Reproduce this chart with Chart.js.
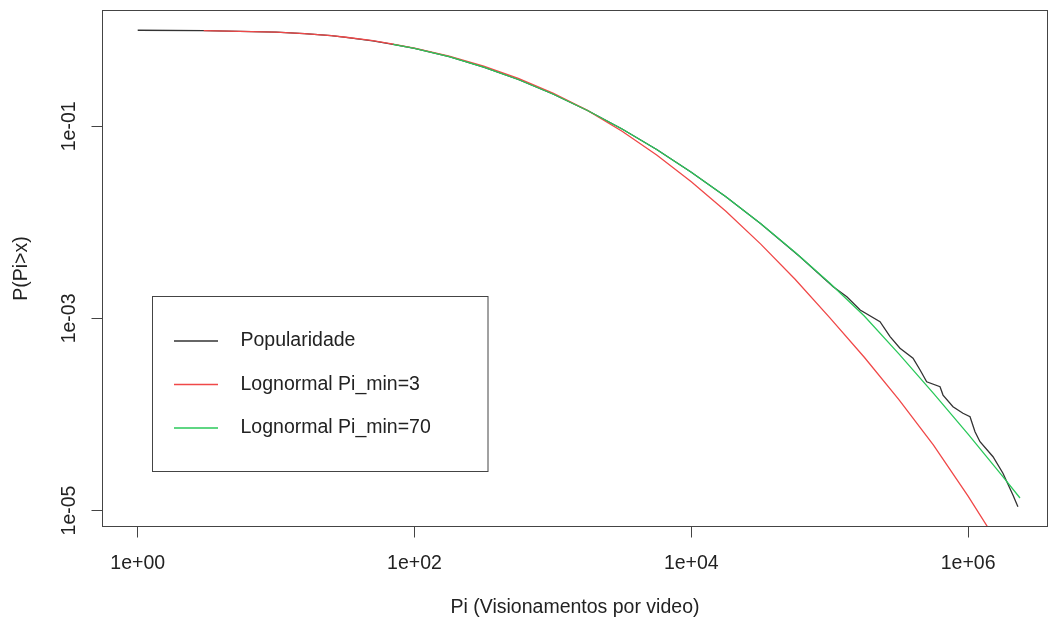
<!DOCTYPE html>
<html>
<head>
<meta charset="utf-8">
<script src="https://cdn.jsdelivr.net/npm/chart.js@4"></script>
<style>
html,body{margin:0;padding:0;background:#fff;}
#wrap{width:1050px;height:625px;position:relative;}
</style>
</head>
<body>
<div id="wrap"><canvas id="c" width="1050" height="625"></canvas></div>
<script>
// ---- data ----
const seriesNames = ['Popularidade', 'Lognormal Pi_min=3', 'Lognormal Pi_min=70'];

const popViews = [1, 3, 10, 16, 25, 32, 50, 70, 100, 178, 316, 562, 1000, 1778, 3162, 5623, 10000, 17783, 31623, 61000, 106000, 133000, 166000, 231000, 273000, 322000, 400000, 450000, 502000, 627000, 659000, 778000, 918000, 1033000, 1122000, 1219000, 1514000, 1786000, 2109000, 2291000];
const popProb = [1, 0.993, 0.955, 0.923, 0.877, 0.841, 0.776, 0.711, 0.646, 0.530, 0.413, 0.307, 0.217, 0.146, 0.0938, 0.0573, 0.0333, 0.01845, 0.00973, 0.004385, 0.002138, 0.001683, 0.001222, 0.000925, 0.000646, 0.000489, 0.000385, 0.000290, 0.000219, 0.0001945, 0.0001592, 0.0001205, 0.0001028, 0.0000948, 0.0000661, 0.0000520, 0.0000363, 0.0000244, 0.00001449, 0.00001096];

const ln3Views = [3, 10, 16, 25, 32, 50, 70, 100, 178, 316, 562, 1000, 1778, 3162, 5623, 10000, 17783, 31623, 56234, 100000, 177828, 316228, 562341, 1000000, 1778279];
const ln3Prob = [0.993, 0.955, 0.923, 0.877, 0.845, 0.779, 0.716, 0.650, 0.538, 0.422, 0.315, 0.222, 0.1465, 0.0889, 0.0502, 0.02649, 0.01303, 0.00597, 0.002553, 0.001019, 0.0003936, 0.0001429, 0.00004786, 0.00001413, 0.0000038];

const ln70Views = [70, 100, 178, 316, 562, 1000, 1778, 3162, 5623, 10000, 17783, 31623, 56234, 100000, 177828, 316228, 562341, 1000000, 1778279, 2371000];
const ln70Prob = [0.711, 0.646, 0.530, 0.413, 0.307, 0.217, 0.146, 0.0938, 0.0573, 0.0333, 0.01845, 0.00973, 0.00489, 0.002339, 0.001059, 0.0004266, 0.000166, 0.0000624, 0.00002265, 0.00001349];

const xTicks = [1, 100, 10000, 1000000];
const xTickLabels = ['1e+00', '1e+02', '1e+04', '1e+06'];
const yTicks = [1e-1, 1e-3, 1e-5];
const yTickLabels = ['1e-01', '1e-03', '1e-05'];
const xTitle = 'Pi (Visionamentos por video)';
const yTitle = 'P(Pi>x)';

// ---- styling ----
const FONT = '"Liberation Sans", Arimo, Arial, Helvetica, sans-serif';
const FS = 19.5;
const TXT = '#222';
const AX = '#444';
const colors = ['#333333', '#f04848', '#2ac85a'];

function pts(xs, ys) { return xs.map((v, i) => ({ x: v, y: ys[i] })); }

const boxPlugin = {
  id: 'rbox',
  afterDraw(chart) {
    const ctx = chart.ctx, a = chart.chartArea;
    ctx.save();
    ctx.strokeStyle = AX;
    ctx.lineWidth = 1;
    ctx.strokeRect(a.left, a.top, a.right - a.left, a.bottom - a.top);
    // legend
    const lx = 152.5, ly = 296.5, lw = 335.5, lh = 175;
    ctx.fillStyle = '#fff';
    ctx.fillRect(lx, ly, lw, lh);
    ctx.strokeRect(lx, ly, lw, lh);
    const rows = [341, 384.5, 428];
    ctx.font = FS + 'px ' + FONT;
    ctx.textBaseline = 'middle';
    ctx.textAlign = 'left';
    chart.data.datasets.forEach((ds, i) => {
      ctx.strokeStyle = ds.borderColor;
      ctx.lineWidth = 1.3;
      ctx.beginPath();
      ctx.moveTo(174, rows[i]);
      ctx.lineTo(218, rows[i]);
      ctx.stroke();
      ctx.fillStyle = TXT;
      ctx.fillText(ds.label, 240.5, rows[i]);
    });
    ctx.restore();
  }
};

new Chart(document.getElementById('c'), {
  type: 'scatter',
  data: {
    datasets: [
      { label: seriesNames[0], data: pts(popViews, popProb), borderColor: colors[0], order: 3 },
      { label: seriesNames[1], data: pts(ln3Views, ln3Prob), borderColor: colors[1], order: 2 },
      { label: seriesNames[2], data: pts(ln70Views, ln70Prob), borderColor: colors[2], order: 1 }
    ].map(d => Object.assign(d, { showLine: true, pointRadius: 0, borderWidth: 1.3, tension: 0, fill: false }))
  },
  options: {
    responsive: false,
    animation: false,
    devicePixelRatio: 1,
    layout: { padding: { top: 10.5, right: 2.5, left: 0, bottom: 0 } },
    plugins: { legend: { display: false }, tooltip: { enabled: false } },
    scales: {
      x: {
        type: 'logarithmic',
        min: 0.5567,
        max: 3.748e6,
        afterFit(s) { s.height = 98.5; },
        afterBuildTicks(s) { s.ticks = xTicks.map(v => ({ value: v })); },
        ticks: {
          autoSkip: false, maxRotation: 0, minRotation: 0, padding: 14.5,
          color: TXT, font: { family: FONT, size: FS },
          callback: (v, i) => xTickLabels[i]
        },
        grid: { display: true, drawOnChartArea: false, drawTicks: true, tickLength: 11, color: AX, tickColor: AX, lineWidth: 1 },
        border: { display: true, color: AX, width: 1 },
        title: { display: true, text: xTitle, color: TXT, font: { family: FONT, size: FS }, padding: { top: 0, bottom: 5.8 } }
      },
      y: {
        type: 'logarithmic',
        min: 6.814e-6,
        max: 1.6053,
        afterFit(s) { s.width = 102.5; },
        afterBuildTicks(s) { s.ticks = yTicks.map(v => ({ value: v })); },
        ticks: {
          autoSkip: false, minRotation: 90, maxRotation: 90, crossAlign: 'center', padding: -3,
          color: TXT, font: { family: FONT, size: FS },
          callback: (v, i) => yTickLabels[i]
        },
        grid: { display: true, drawOnChartArea: false, drawTicks: true, tickLength: 11, color: AX, tickColor: AX, lineWidth: 1 },
        border: { display: true, color: AX, width: 1 },
        title: { display: true, text: yTitle, color: TXT, font: { family: FONT, size: FS }, padding: { top: 9.5, bottom: 0 } }
      }
    }
  },
  plugins: [boxPlugin]
});
</script>
</body>
</html>
